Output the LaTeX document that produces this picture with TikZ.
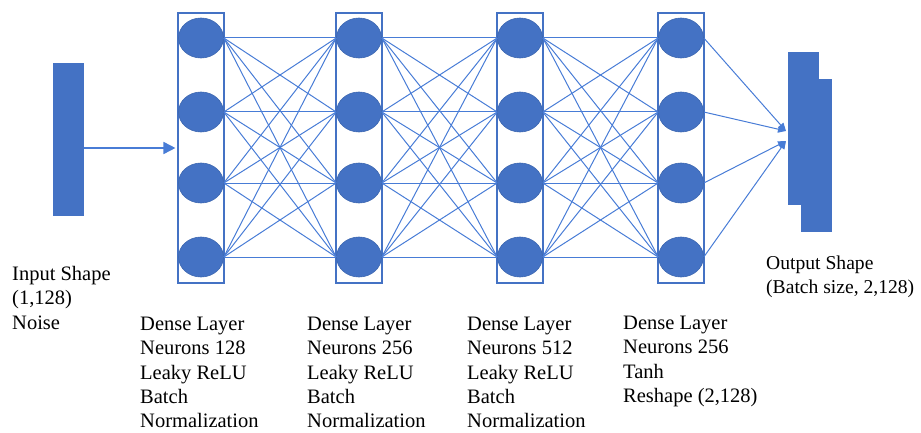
\documentclass[tikz,border=0pt]{standalone}
\usepackage{fontspec}
\setmainfont{Liberation Serif}
\usepackage{xcolor}
\usepackage{tikz}
\usetikzlibrary{shapes.geometric, arrows.meta, positioning}
\definecolor{netblue}{RGB}{68,114,196}
\definecolor{wireblue}{RGB}{72,124,214}

\begin{document}
\begin{tikzpicture}
  [
    x=1pt, y=-1pt,
    Neuron/.style={ellipse, draw=netblue!90!black, fill=netblue, line width=0.6pt, minimum width=45pt, minimum height=40pt, inner sep=0pt},
    Layer/.style={rectangle, draw=netblue, line width=1.1pt, minimum width=46pt, minimum height=270pt, inner sep=0pt},
    Bar/.style={rectangle, fill=netblue, minimum width=31pt, minimum height=153pt, inner sep=0pt},
    Wire/.style={draw=wireblue, line width=1pt},
    Caption/.style={anchor=north west, inner sep=0pt, align=left, font=\fontsize{20.5}{24.3}\selectfont}
  ]
  \useasboundingbox (0,0) rectangle (921,433);
  % Nodes
  \node[Bar] (inp) at (68, 139.5) {};
  \foreach \l/\x in {1/201, 2/359, 3/520, 4/681} {
    \node[Layer] (box\l) at (\x, 148) {};
    \foreach \n/\y in {1/38, 2/112, 3/183, 4/257}
      \node[Neuron] (l\l n\n) at (\x, \y) {};
  }
  \node[Bar] (outb) at (803.5, 128.5) {};
  \node[Bar] (outf) at (816.5, 155.5) {};
  \coordinate (o1) at (786, 131);
  \coordinate (o2) at (786, 141);
  % Labels
  \node[Caption] (inlab) at (12, 266) {Input Shape\\(1,128)\\Noise};
  \node[Caption] (lab1) at (140, 317) {Dense Layer\\Neurons 128\\Leaky ReLU\\Batch\\Normalization};
  \node[Caption] (lab2) at (307, 317) {Dense Layer\\Neurons 256\\Leaky ReLU\\Batch\\Normalization};
  \node[Caption] (lab3) at (467, 317) {Dense Layer\\Neurons 512\\Leaky ReLU\\Batch\\Normalization};
  \node[Caption] (lab4) at (623, 316) {Dense Layer\\Neurons 256\\Tanh\\Reshape (2,128)};
  \node[Caption, font=\fontsize{19.6}{23.5}\selectfont] (outlab) at (766, 256) {Output Shape\\(Batch size, 2,128)};
  % Lines
  \path [-{Triangle[length=12pt, width=12pt]}, Wire, line width=1.6pt, shorten >=2pt] (inp.east |- box1.west) -- (box1.west);
  \foreach \a/\b in {1/2, 2/3, 3/4}
    \foreach \i in {1,...,4}
      \foreach \j in {1,...,4}
        \path [Wire] (l\a n\i.east) -- (l\b n\j.west);
  \path [-{Triangle[length=8pt, width=7pt]}, Wire] (l4n1.east) -- (o1);
  \path [-{Triangle[length=8pt, width=7pt]}, Wire] (l4n2.east) -- (o1);
  \path [-{Triangle[length=8pt, width=7pt]}, Wire] (l4n3.east) -- (o2);
  \path [-{Triangle[length=8pt, width=7pt]}, Wire] (l4n4.east) -- (o2);
\end{tikzpicture}
\end{document}
